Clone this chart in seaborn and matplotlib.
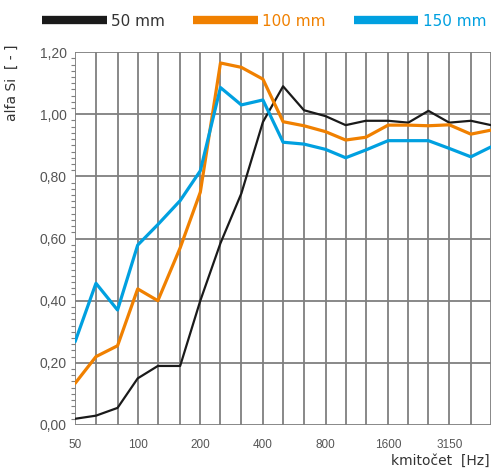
import matplotlib
matplotlib.use("Agg")
import matplotlib.pyplot as plt
from matplotlib.ticker import FixedLocator, FixedFormatter, NullFormatter, MultipleLocator
import seaborn as sns
import pandas as pd

# third-octave bands (Hz)
freqs = [50, 63, 80, 100, 125, 160, 200, 250, 315, 400, 500, 630,
         800, 1000, 1250, 1600, 2000, 2500, 3150, 4000, 5000]

alpha_50 = [0.02, 0.03, 0.055, 0.15, 0.19, 0.19, 0.40, 0.585, 0.745, 0.975, 1.09,
            1.013, 0.994, 0.965, 0.979, 0.979, 0.973, 1.011, 0.973, 0.979, 0.965]
alpha_100 = [0.134, 0.22, 0.255, 0.438, 0.40, 0.57, 0.749, 1.165, 1.151, 1.113, 0.976,
             0.963, 0.944, 0.917, 0.926, 0.965, 0.965, 0.963, 0.966, 0.936, 0.949]
alpha_150 = [0.268, 0.456, 0.37, 0.579, 0.645, 0.722, 0.818, 1.086, 1.03, 1.046, 0.91,
             0.904, 0.887, 0.86, 0.885, 0.915, 0.915, 0.915, 0.89, 0.863, 0.895]

labels = ["50 mm", "100 mm", "150 mm"]
colors = {"50 mm": "#1a1a1a", "100 mm": "#f08000", "150 mm": "#00a0e0"}
tick_freqs = [50, 100, 200, 400, 800, 1600, 3150]

df = pd.DataFrame({
    "f": freqs * 3,
    "alpha": alpha_50 + alpha_100 + alpha_150,
    "tl": [labels[0]] * len(freqs) + [labels[1]] * len(freqs) + [labels[2]] * len(freqs),
})

sns.set_style("white")
plt.rcParams["font.family"] = ["Liberation Sans", "DejaVu Sans"]

fig = plt.figure(figsize=(4.94, 4.72), dpi=100)
ax = fig.add_axes([0.152, 0.0996, 0.842, 0.790])

sns.lineplot(data=df, x="f", y="alpha", hue="tl", palette=colors, ax=ax,
             legend=False, estimator=None, sort=False)
for ln, lw in zip(ax.get_lines(), [1.6, 2.3, 2.3]):
    ln.set_linewidth(lw)
    ln.set_zorder(3)

ax.set_xscale("log")
ax.set_xlim(50, 5000)
ax.set_ylim(0, 1.2)

ax.xaxis.set_major_locator(FixedLocator(freqs))
ax.xaxis.set_major_formatter(FixedFormatter([str(f) if f in tick_freqs else "" for f in freqs]))
ax.xaxis.set_minor_locator(FixedLocator([]))
ax.xaxis.set_minor_formatter(NullFormatter())

ax.yaxis.set_major_locator(MultipleLocator(0.2))
ax.yaxis.set_minor_locator(MultipleLocator(0.02))
ax.set_yticklabels([f"{v:.2f}".replace(".", ",") for v in ax.get_yticks()])

ax.grid(True, which="major", color="#7f7f7f", linewidth=1.3)
for s in ax.spines.values():
    s.set_visible(False)

ax.tick_params(axis="x", which="major", direction="out", length=4, width=1.3,
               color="#7f7f7f", labelsize=8.5, labelcolor="#555555", pad=6)
ax.tick_params(axis="y", which="major", direction="out", length=4, width=1.3,
               color="#7f7f7f", labelsize=10, labelcolor="#555555", pad=2)
ax.tick_params(axis="y", which="minor", direction="out", length=3, width=0.8,
               color="#7f7f7f", left=True)

ax.set_xlabel("")
ax.set_ylabel("")
fig.text(0.992, 0.008, "kmitočet  [Hz]", ha="right", va="bottom",
         fontsize=10, color="#333333", family=["DejaVu Sans"])
fig.text(0.025, 0.825, "alfa Si  [ - ]", ha="center", va="center", rotation=90,
         fontsize=10, color="#333333", family=["DejaVu Sans"])

# legend across the top
handles = [plt.Line2D([], [], color=colors[l], linewidth=6, solid_capstyle="butt") for l in labels]
leg = fig.legend(handles, labels, loc="center", bbox_to_anchor=(0.535, 0.955), ncol=3,
                 frameon=False, handlelength=4.2, handletextpad=0.3, columnspacing=1.85,
                 prop={"family": "DejaVu Sans", "size": 11})
for txt, l in zip(leg.get_texts(), labels):
    txt.set_color(colors[l] if l != "50 mm" else "#333333")

fig.savefig("out.png", dpi=100)
